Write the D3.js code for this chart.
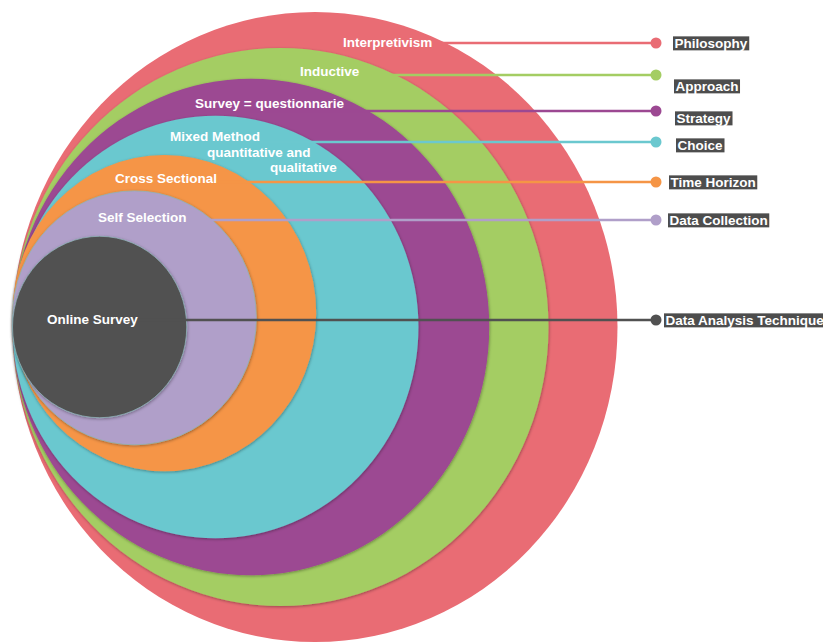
<!DOCTYPE html>
<html>
<head>
<meta charset="utf-8">
<script src="https://cdn.jsdelivr.net/npm/d3@7"></script>
<style>
  html, body { margin: 0; padding: 0; background: #ffffff; }
  svg { display: block; }
  text { font-family: "Liberation Sans", Arial, "DejaVu Sans", sans-serif; font-weight: bold; }
</style>
</head>
<body>
<svg id="chart" width="823" height="643"></svg>
<script>
// ---- data ----
const layers = ["Philosophy", "Approach", "Strategy", "Choice", "Time Horizon", "Data Collection", "Data Analysis Technique"];
const choices = ["Interpretivism", "Inductive", "Survey = questionnarie", "Mixed Method|quantitative and|qualitative", "Cross Sectional", "Self Selection", "Online Survey"];
const layerSize = [100, 88.6, 78.8, 67.1, 50.2, 40.3, 28.8];   // relative size of each onion layer (% of outer)
const layerShift = [0, 0, 0, 0, -4.4, -2.9, 0];                 // relative vertical offset of each layer
const colors = ["#e96c74", "#a4cd63", "#9c4892", "#6bc8cf", "#f59546", "#b09fc9", "#515151"];

// ---- layout ----
const W = 823, H = 643;
const left = 12.5, midY = 327;
const sx = d3.scaleLinear().domain([0, 100]).range([0, 302.5]);
const sy = d3.scaleLinear().domain([0, 100]).range([0, 315]);
const leaderY = [43, 75, 111, 142, 182, 220, 320];
const dotX = 656;
const boxX = [673, 674, 675, 676, 669, 668, 664];
const boxY = [43, 86, 118, 145, 182, 220, 320];
const labelPos = [
  [[343, 42]],
  [[300, 71]],
  [[195, 103]],
  [[170, 136], [207, 152], [270, 167]],
  [[115, 178]],
  [[98, 217]],
  [[47, 319]]
];

const svg = d3.select("#chart");
const defs = svg.append("defs");
const f = defs.append("filter").attr("id", "sh").attr("x", "-10%").attr("y", "-10%").attr("width", "120%").attr("height", "120%");
f.append("feDropShadow").attr("dx", 0.5).attr("dy", 1).attr("stdDeviation", 1.6)
  .attr("flood-color", "#000").attr("flood-opacity", 0.35);

const data = layers.map((l, i) => ({
  layer: l, choice: choices[i], size: layerSize[i], shift: layerShift[i], color: colors[i], i
}));

// rings (outer first)
svg.append("g").selectAll("ellipse").data(data).join("ellipse")
  .attr("cx", d => left + sx(d.size))
  .attr("cy", d => midY + sy(d.shift))
  .attr("rx", d => sx(d.size))
  .attr("ry", d => sy(d.size))
  .attr("fill", d => d.color)
  .attr("filter", d => d.i === 0 ? null : "url(#sh)")
  .attr("stroke", d => d.i >= 5 ? "#8fb3b8" : "none")
  .attr("stroke-width", d => d.i >= 5 ? 0.8 : 0);

// leader lines
const lg = svg.append("g");
lg.selectAll("line").data(data).join("line")
  .attr("x1", d => left + sx(d.size))
  .attr("x2", dotX)
  .attr("y1", d => leaderY[d.i])
  .attr("y2", d => leaderY[d.i])
  .attr("stroke", d => d.color)
  .attr("stroke-width", 2.4);
lg.selectAll("circle").data(data).join("circle")
  .attr("cx", dotX)
  .attr("cy", d => leaderY[d.i])
  .attr("r", 5.5)
  .attr("fill", d => d.color);

// ring labels
const tg = svg.append("g");
data.forEach(d => {
  d.choice.split("|").forEach((line, k) => {
    const p = labelPos[d.i][k];
    tg.append("text")
      .attr("x", p[0]).attr("y", p[1]).attr("dy", "0.36em")
      .attr("fill", "#ffffff")
      .attr("font-size", 13.5)
      .text(line);
  });
});

// layer name boxes
const bg = svg.append("g");
data.forEach(d => {
  const g = bg.append("g");
  const t = g.append("text")
    .attr("x", boxX[d.i] + 1.5).attr("y", boxY[d.i]).attr("dy", "0.36em")
    .attr("fill", "#ffffff").attr("font-size", 13.5)
    .text(d.layer);
  const b = t.node().getBBox();
  g.insert("rect", "text")
    .attr("x", b.x - 1.5).attr("y", b.y + 0.5)
    .attr("width", b.width + 3).attr("height", b.height - 1)
    .attr("fill", "#4d4d4d");
});
</script>
</body>
</html>
